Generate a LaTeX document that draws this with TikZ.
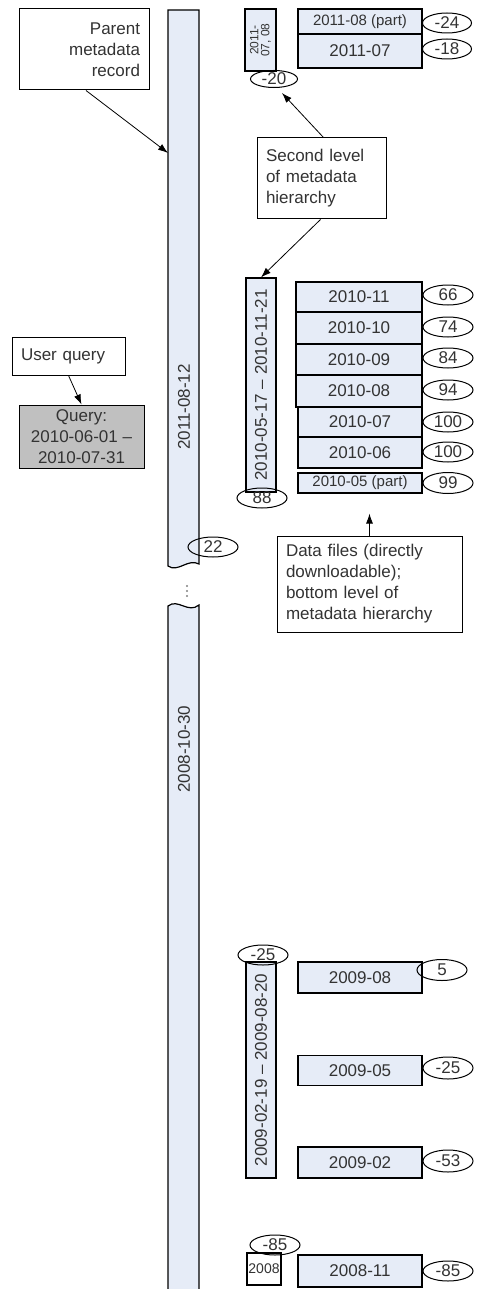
\documentclass[tikz,border=0pt]{standalone}
\usepackage{fontspec}
\setmainfont{Liberation Sans}
\usetikzlibrary{shapes.geometric,arrows.meta}
\definecolor{barblue}{RGB}{230,236,247}
\definecolor{querygray}{RGB}{192,192,192}
\definecolor{txtgray}{RGB}{51,51,51}

\begin{document}
\begin{tikzpicture}[x=1pt,y=-1pt,
  every node/.style={font=\fontsize{17}{21}\selectfont,text=txtgray},
  filebox/.style={draw=black,line width=1.2pt,fill=barblue,inner sep=0pt},
  tag/.style={ellipse,draw=black,line width=1pt,inner sep=0pt,minimum width=50,minimum height=20},
  note/.style={draw=black,line width=1pt,fill=white,inner xsep=9pt,inner ysep=0pt},
  pointer/.style={-{Latex[length=10pt,width=7pt]},line width=0.8pt}]
\useasboundingbox (0,0) rectangle (477,1289);
% parent record bar, cut in two
\draw[line width=1.2pt,fill=barblue] (168,566) -- (168,10) -- (199,10) -- (199,564) .. controls (188,558) and (178,573) .. (168,566) -- cycle;
\fill[barblue] (168,606) .. controls (178,598) and (188,614) .. (199,605) -- (199,1295) -- (168,1295) -- cycle;
\draw[line width=1.2pt] (168,1295) -- (168,606) .. controls (178,598) and (188,614) .. (199,605) -- (199,1295);
\fill[gray] (187,586) circle (1.1) (187,591) circle (1.1) (187,596) circle (1.1);
\node[rotate=90] (d0812) at (184,407) {2011-08-12};
\node[rotate=90] (d1030) at (184,749) {2008-10-30};
\node[tag] (n22) at (213,547) {22};
\coordinate (parentin) at (168,153);
% left notes
\node[note,text width=112pt,align=right,minimum height=81] (parent) at (84,49.5) {Parent\\metadata\\record};
\node[note,text width=95pt,align=left,minimum height=38] (user) at (68.5,356) {User query};
\node[draw=black,line width=1pt,fill=querygray,inner sep=0pt,minimum width=125,minimum height=63,align=center] (query) at (81.5,436.5) {Query:\\2010-06-01 –\\2010-07-31};
\draw[pointer] ([xshift=2]parent.south) -- (parentin);
\draw[pointer] (user.south) -- (query.north);
% 2011 group
\node[filebox,rotate=90,minimum width=62,minimum height=31,align=center,font=\fontsize{12}{11}\selectfont] (s1107) at (260.5,40) {2011-\\07, 08};
\node[tag,minimum width=47,minimum height=17] (n20) at (274,79) {-20};
\node[filebox,minimum width=124,minimum height=25,font=\fontsize{15}{18}\selectfont] (f1108) at (360,21.5) {2011-08 (part)};
\node[filebox,minimum width=124,minimum height=34] (f1107) at (360,51) {2011-07};
\node[tag,minimum width=49] (n24) at (447,23) {-24};
\node[tag,minimum width=49] (n18) at (447,49) {-18};
\node[note,text width=111pt,align=left,minimum height=81] (second) at (321.5,178.5) {Second level\\of metadata\\hierarchy};
\draw[pointer] ([xshift=2]second.north) -- ([xshift=8,yshift=-5]n20.south);
% 2010 group
\node[filebox,rotate=90,minimum width=214,minimum height=30] (s2010) at (261,385) {2010-05-17 – 2010-11-21};
\node[tag] (n88) at (262,498) {88};
\draw[pointer] ([xshift=-1]second.south) -- (s2010.east);
\node[filebox,minimum width=126,minimum height=30] (f1011) at (359,297) {2010-11};
\node[filebox,minimum width=126,minimum height=32] (f1010) at (359,328) {2010-10};
\node[filebox,minimum width=126,minimum height=31] (f1009) at (359,359.5) {2010-09};
\node[filebox,minimum width=126,minimum height=32] (f1008) at (359,391) {2010-08};
\node[filebox,minimum width=124,minimum height=30] (f1007) at (360,422) {2010-07};
\node[filebox,minimum width=124,minimum height=31] (f1006) at (360,452.5) {2010-06};
\node[filebox,minimum width=124,minimum height=20,font=\fontsize{15}{18}\selectfont] (f1005) at (360,483) {2010-05 (part)};
\node[tag] (n66) at (448,295) {66};
\node[tag] (n74) at (448,327) {74};
\node[tag] (n84) at (448,358) {84};
\node[tag] (n94) at (448,390) {94};
\node[tag] (n100a) at (448,422) {100};
\node[tag] (n100b) at (448,452) {100};
\node[tag,minimum height=21] (n99) at (448,483) {99};
\node[note,text width=167pt,align=left,minimum height=96] (files) at (369.5,584) {Data files (directly\\downloadable);\\bottom level of\\metadata hierarchy};
\draw[pointer] (files.north) -- ([xshift=9.5,yshift=-20]f1005.south);
% 2009 group
\node[filebox,rotate=90,minimum width=216,minimum height=30] (s2009) at (261,1070) {2009-02-19 – 2009-08-20};
\node[tag] (n25top) at (263,955) {-25};
\node[filebox,minimum width=124,minimum height=31] (f0908) at (360,977.5) {2009-08};
\node[filebox,minimum width=124,minimum height=30] (f0905) at (360,1070.5) {2009-05};
\node[filebox,minimum width=124,minimum height=31] (f0902) at (360,1162.5) {2009-02};
\node[tag,minimum height=21] (n5) at (442,970) {5};
\node[tag,minimum height=22] (n25) at (448,1068) {-25};
\node[tag,minimum height=22] (n53) at (448,1161) {-53};
% 2008 group
\node[filebox,fill=white,minimum width=34,minimum height=32,font=\fontsize{14}{16}\selectfont] (s2008) at (264,1269) {2008};
\node[tag] (n85top) at (275,1245) {-85};
\node[filebox,minimum width=124,minimum height=32] (f0811) at (360,1271) {2008-11};
\node[tag] (n85) at (448,1271) {-85};
\end{tikzpicture}
\end{document}
